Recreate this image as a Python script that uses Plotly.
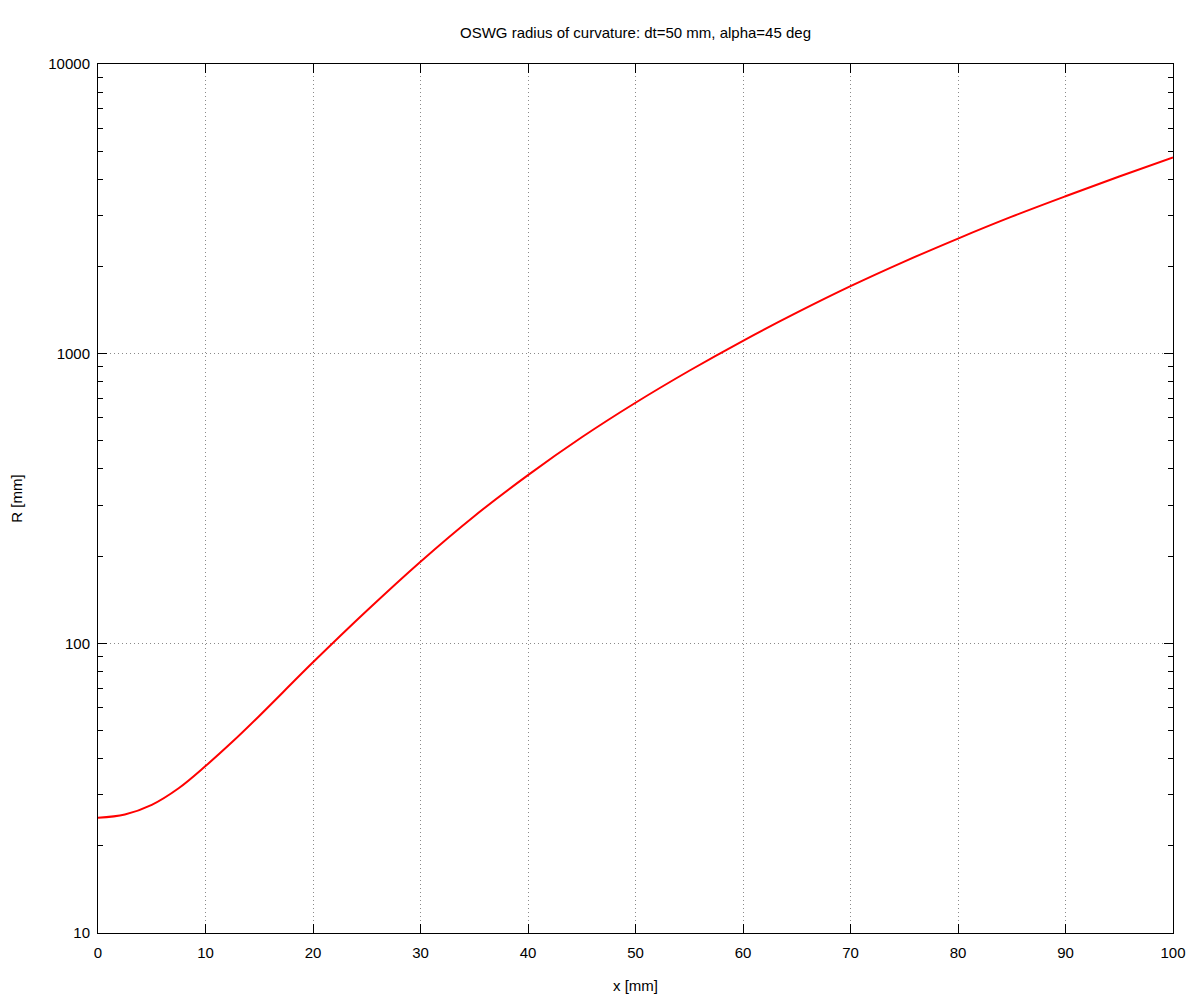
import plotly.graph_objects as go

# Data
x_mm = [0, 2.5, 5, 7.5, 10, 12.5, 15, 20, 25, 30, 35, 40, 45, 50, 55, 60, 65, 70, 75, 80, 85, 90, 95, 100]
R_mm = [25, 25.66, 27.7, 31.6, 37.7, 45.7, 56.15, 86, 129.6, 191.4, 274.8, 380.9, 514.5, 677,
        873, 1108, 1385, 1710, 2079, 2497, 2971, 3494, 4087, 4758]

y_major = [10, 100, 1000, 10000]
y_major_text = ["10", "100", "1000", "10000"]
y_minor = [k * m for m in (10, 100, 1000) for k in range(2, 10)]
x_ticks = list(range(0, 101, 10))

FONT = "Liberation Sans, Arial, sans-serif"
FS = 15

# The page places the plot 8 px from the top-left corner (default body margin)
W, H = 1192, 992

fig = go.Figure()
fig.add_trace(go.Scatter(
    x=x_mm, y=R_mm, mode="lines",
    line=dict(color="#ff0000", width=2, shape="spline", smoothing=1.0),
    showlegend=False,
))

fig.update_layout(
    width=W, height=H,
    paper_bgcolor="white", plot_bgcolor="white",
    margin=dict(l=90, r=27, t=56, b=67),
    font=dict(family=FONT, size=FS, color="black"),
    title=dict(text="OSWG radius of curvature: dt=50 mm, alpha=45 deg",
               x=0.5, xanchor="center", xref="paper",
               y=1 - 25 / H, yanchor="middle",
               font=dict(family=FONT, size=FS, color="black")),
)

fig.update_xaxes(
    range=[0, 100], tickvals=x_ticks, automargin=False,
    showline=True, linecolor="black", linewidth=1, mirror="ticks",
    ticks="inside", ticklen=9, tickcolor="black", tickwidth=1,
    showgrid=True, gridcolor="#8a8a8a", griddash="1px,3px", gridwidth=1,
    zeroline=False,
    title=dict(text="x [mm]", standoff=20, font=dict(family=FONT, size=FS)),
    tickfont=dict(family=FONT, size=FS),
    ticklabelstandoff=6,
)

fig.update_yaxes(
    type="log", range=[1, 4], automargin=False,
    tickvals=y_major, ticktext=y_major_text,
    showline=True, linecolor="black", linewidth=1, mirror="ticks",
    ticks="inside", ticklen=9, tickcolor="black", tickwidth=1,
    showgrid=True, gridcolor="#8a8a8a", griddash="1px,3px", gridwidth=1,
    zeroline=False,
    minor=dict(tickvals=y_minor, ticks="inside", ticklen=5, tickcolor="black",
               tickwidth=1, showgrid=False),
    title=dict(text="R [mm]", standoff=22, font=dict(family=FONT, size=FS)),
    tickfont=dict(family=FONT, size=FS),
    ticklabelstandoff=4,
)

fig.write_html("out.html")
